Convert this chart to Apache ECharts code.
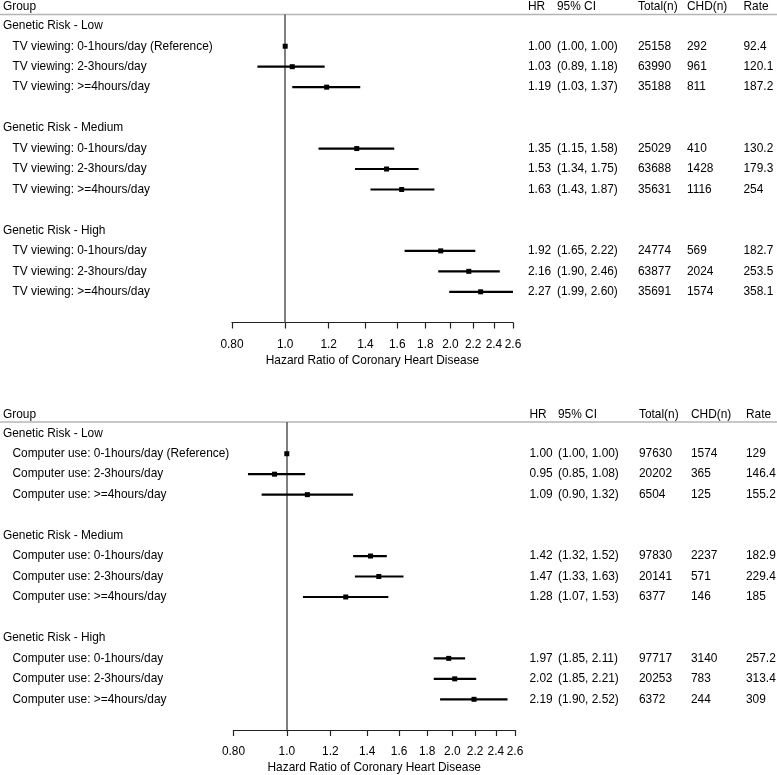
<!DOCTYPE html>
<html>
<head>
<meta charset="utf-8">
<script src="https://cdn.jsdelivr.net/npm/echarts@6/dist/echarts.min.js"></script>
<style>html,body{margin:0;padding:0;background:#fff}#c{width:777px;height:775px}</style>
</head>
<body>
<div id="c"></div>
<script>
const tickLabels = ['0.80','1.0','1.2','1.4','1.6','1.8','2.0','2.2','2.4','2.6'];
const tickValues = [0.8,1.0,1.2,1.4,1.6,1.8,2.0,2.2,2.4,2.6];
const groups = ['Genetic Risk - Low','Genetic Risk - Medium','Genetic Risk - High'];
const columns = ['Group','HR','95% CI','Total(n)','CHD(n)','Rate'];
const axisTitle = 'Hazard Ratio of Coronary Heart Disease';

const tvLabels = ['TV viewing: 0-1hours/day (Reference)','TV viewing: 2-3hours/day','TV viewing: >=4hours/day',
  'TV viewing: 0-1hours/day','TV viewing: 2-3hours/day','TV viewing: >=4hours/day',
  'TV viewing: 0-1hours/day','TV viewing: 2-3hours/day','TV viewing: >=4hours/day'];
const tvHR    = [1.00,1.03,1.19,1.35,1.53,1.63,1.92,2.16,2.27];
const tvLow   = [1.00,0.89,1.03,1.15,1.34,1.43,1.65,1.90,1.99];
const tvHigh  = [1.00,1.18,1.37,1.58,1.75,1.87,2.22,2.46,2.60];
const tvTotal = [25158,63990,35188,25029,63688,35631,24774,63877,35691];
const tvCHD   = [292,961,811,410,1428,1116,569,2024,1574];
const tvRate  = ['92.4','120.1','187.2','130.2','179.3','254','182.7','253.5','358.1'];

const pcLabels = ['Computer use: 0-1hours/day (Reference)','Computer use: 2-3hours/day','Computer use: >=4hours/day',
  'Computer use: 0-1hours/day','Computer use: 2-3hours/day','Computer use: >=4hours/day',
  'Computer use: 0-1hours/day','Computer use: 2-3hours/day','Computer use: >=4hours/day'];
const pcHR    = [1.00,0.95,1.09,1.42,1.47,1.28,1.97,2.02,2.19];
const pcLow   = [1.00,0.85,0.90,1.32,1.33,1.07,1.85,1.85,1.90];
const pcHigh  = [1.00,1.08,1.32,1.52,1.63,1.53,2.11,2.21,2.52];
const pcTotal = [97630,20202,6504,97830,20141,6377,97717,20253,6372];
const pcCHD   = [1574,365,125,2237,571,146,3140,783,244];
const pcRate  = ['129','146.4','155.2','182.9','229.4','185','257.2','313.4','309'];

const FONT = '"Liberation Sans", Arial, Helvetica, sans-serif';
const FS = 11.9;
const colXTop = [3, 528, 557, 638, 687, 743.5];
const colXBot = [3, 529.5, 558, 639, 691, 746];
const indentX = 12.5;

function buildRows(labels, hr, lo, hi, total, chd, rate) {
  const rows = [{k: -0.93, texts: columns.slice(), header: true}];
  groups.forEach((g, gi) => {
    rows.push({k: gi * 5, texts: [g]});
    for (let j = 0; j < 3; j++) {
      const i = gi * 3 + j;
      rows.push({k: gi * 5 + 1 + j, texts: [labels[i], hr[i].toFixed(2),
        '(' + lo[i].toFixed(2) + ', ' + hi[i].toFixed(2) + ')', String(total[i]), String(chd[i]), rate[i]], item: true});
    }
  });
  return rows;
}
function forestData(hr, lo, hi) {
  return hr.map((v, i) => [Math.log(v), Math.log(lo[i]), Math.log(hi[i]), Math.floor(i / 3) * 5 + 1 + (i % 3)]);
}

const tvRows = buildRows(tvLabels, tvHR, tvLow, tvHigh, tvTotal, tvCHD, tvRate);
const pcRows = buildRows(pcLabels, pcHR, pcLow, pcHigh, pcTotal, pcCHD, pcRate);

function tableSeries(rows, idx, colX) {
  return {
    type: 'custom', xAxisIndex: idx, yAxisIndex: idx, silent: true, clip: false,
    data: rows.map(r => [Math.log(1), r.k]),
    encode: {x: 0, y: 1},
    renderItem(params, api) {
      const r = rows[params.dataIndex];
      const y = api.coord([0, r.k])[1];
      const children = [];
      r.texts.forEach((t, c) => {
        let x = colX[c];
        if (c === 0 && r.item) x = indentX;
        children.push({type: 'text', style: {text: t, x: x, y: y, fill: '#000', font: FS + 'px ' + FONT, textVerticalAlign: 'middle', textAlign: 'left'}});
      });
      if (r.header) {
        const ly = api.coord([0, -0.55])[1];
        children.push({type: 'line', shape: {x1: 0, y1: ly, x2: 777, y2: ly}, style: {stroke: '#b4b4b4', lineWidth: 1.5}});
      }
      return {type: 'group', children: children};
    }
  };
}
function forestSeries(hr, lo, hi, idx) {
  return {
    type: 'custom', xAxisIndex: idx, yAxisIndex: idx, silent: true, clip: false, z: 5,
    data: forestData(hr, lo, hi),
    encode: {x: [0, 1, 2], y: 3},
    renderItem(params, api) {
      const p = api.coord([api.value(0), api.value(3)]);
      const a = api.coord([api.value(1), api.value(3)]);
      const b = api.coord([api.value(2), api.value(3)]);
      const s = 5;
      return {type: 'group', children: [
        {type: 'line', shape: {x1: a[0], y1: a[1], x2: b[0], y2: b[1]}, style: {stroke: '#000', lineWidth: 2.2}},
        {type: 'rect', shape: {x: p[0] - s / 2, y: p[1] - s / 2, width: s, height: s}, style: {fill: '#000'}}
      ]};
    },
    markLine: {
      silent: true, symbol: 'none', label: {show: false},
      lineStyle: {color: '#555', width: 1.5, type: 'solid'},
      data: [{xAxis: Math.log(1)}]
    }
  };
}
function xAxisDef(idx) {
  const tv = tickValues.map(v => Math.log(v));
  return {
    gridIndex: idx, type: 'value', min: Math.log(0.8), max: Math.log(2.6), position: 'bottom',
    splitLine: {show: false},
    axisLine: {onZero: false, lineStyle: {color: '#222', width: 1.2}},
    axisTick: {show: true, length: 6, customValues: tv, lineStyle: {color: '#222', width: 1.2}},
    axisLabel: {customValues: tv, margin: 16, color: '#000', fontSize: FS, fontFamily: FONT,
      formatter: v => { const i = tv.findIndex(t => Math.abs(t - v) < 1e-6); return i >= 0 ? tickLabels[i] : ''; }},
    name: axisTitle, nameLocation: 'middle', nameGap: 32,
    nameTextStyle: {color: '#000', fontSize: FS, fontFamily: FONT}
  };
}
function yAxisDef(idx) {
  return {gridIndex: idx, type: 'value', inverse: true, min: -0.55, max: 14.5, show: false};
}

const chart = echarts.init(document.getElementById('c'), null, {renderer: 'canvas'});
chart.setOption({
  animation: false,
  backgroundColor: '#fff',
  grid: [
    {left: 232, width: 281, top: 14.5, height: 308},
    {left: 233.5, width: 281.5, top: 422, height: 308}
  ],
  xAxis: [xAxisDef(0), xAxisDef(1)],
  yAxis: [yAxisDef(0), yAxisDef(1)],
  series: [
    tableSeries(tvRows, 0, colXTop), forestSeries(tvHR, tvLow, tvHigh, 0),
    tableSeries(pcRows, 1, colXBot), forestSeries(pcHR, pcLow, pcHigh, 1)
  ]
});
</script>
</body>
</html>
